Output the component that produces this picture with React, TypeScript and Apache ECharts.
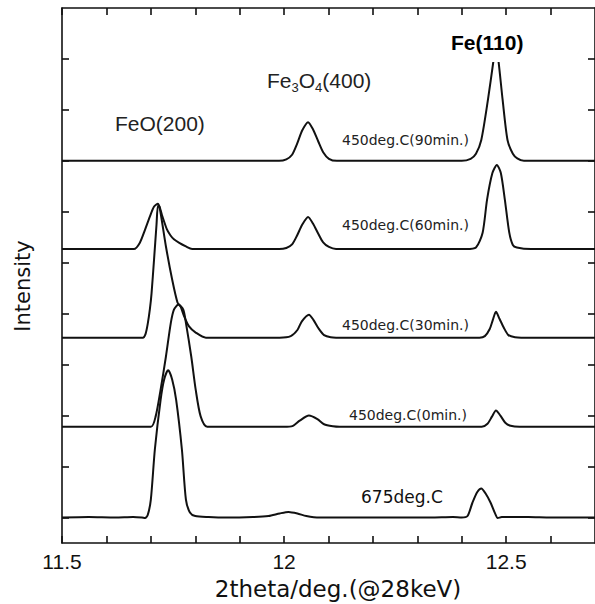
import React, { useEffect, useRef } from "react";
import * as echarts from "echarts";

// x: 2theta (deg), y: intensity + vertical offset (arbitrary units)
const trace90: number[][] = [
  [11.5, 7.0], [11.7, 7.0], [11.9, 7.0], [11.989, 7.0], [12.005, 7.03], [12.018, 7.12],
  [12.029, 7.33], [12.041, 7.6], [12.054, 7.76], [12.065, 7.62], [12.077, 7.38],
  [12.088, 7.17], [12.101, 7.04], [12.119, 7.0], [12.3, 7.0], [12.4, 7.0], [12.42, 7.04],
  [12.432, 7.14], [12.444, 7.41], [12.459, 8.2], [12.471, 8.94], [12.477, 9.3],
  [12.483, 8.94], [12.492, 8.2], [12.503, 7.41], [12.515, 7.14], [12.525, 7.05],
  [12.54, 7.0], [12.7, 7.0],
];

const trace60: number[][] = [
  [11.5, 5.27], [11.662, 5.27], [11.675, 5.39], [11.687, 5.65], [11.698, 5.91],
  [11.707, 6.1], [11.716, 6.16], [11.726, 5.91], [11.736, 5.66], [11.744, 5.54],
  [11.752, 5.46], [11.764, 5.39], [11.779, 5.32], [11.793, 5.27], [11.989, 5.27],
  [12.005, 5.29], [12.018, 5.36], [12.029, 5.53], [12.041, 5.75], [12.054, 5.9],
  [12.065, 5.77], [12.077, 5.57], [12.088, 5.4], [12.101, 5.31], [12.117, 5.27],
  [12.41, 5.27], [12.432, 5.3], [12.447, 5.59], [12.457, 6.24], [12.469, 6.76],
  [12.479, 6.92], [12.488, 6.76], [12.497, 6.24], [12.507, 5.59], [12.515, 5.35],
  [12.524, 5.3], [12.556, 5.27], [12.7, 5.27],
];

const trace30: number[][] = [
  [11.5, 3.53], [11.682, 3.53], [11.688, 3.6], [11.693, 3.8], [11.698, 4.1],
  [11.7016, 4.4], [11.7072, 5.06], [11.7128, 5.75], [11.716, 6.12], [11.7195, 6.1],
  [11.734, 5.32], [11.748, 4.67], [11.76, 4.22], [11.767, 4.14], [11.775, 3.95],
  [11.786, 3.75], [11.801, 3.63], [11.824, 3.53], [11.99, 3.53], [12.015, 3.56],
  [12.03, 3.68], [12.04, 3.85], [12.056, 3.98], [12.066, 3.88], [12.077, 3.72],
  [12.09, 3.58], [12.105, 3.54], [12.135, 3.53], [12.44, 3.53], [12.452, 3.56],
  [12.463, 3.7], [12.47, 3.88], [12.477, 4.04], [12.485, 3.9], [12.495, 3.72],
  [12.505, 3.58], [12.52, 3.54], [12.555, 3.53], [12.7, 3.53],
];

const trace0: number[][] = [
  [11.5, 1.78], [11.7, 1.78], [11.711, 1.99], [11.722, 2.51], [11.734, 3.16],
  [11.745, 3.82], [11.752, 4.08], [11.762, 4.18], [11.773, 4.08], [11.779, 3.82],
  [11.791, 3.16], [11.801, 2.51], [11.812, 1.99], [11.827, 1.78], [12.0, 1.78],
  [12.02, 1.8], [12.035, 1.9], [12.056, 2.0], [12.075, 1.93], [12.09, 1.83],
  [12.11, 1.79], [12.125, 1.78], [12.445, 1.78], [12.458, 1.84], [12.468, 1.98],
  [12.477, 2.1], [12.487, 2.0], [12.498, 1.86], [12.51, 1.8], [12.53, 1.78], [12.7, 1.78],
];

const trace675: number[][] = [
  [11.5, 0.0], [11.56, 0.01], [11.62, 0.0], [11.66, 0.01], [11.68, 0.0],
  [11.687, -0.01], [11.693, 0.05], [11.7, 0.35], [11.709, 1.33],
  [11.722, 2.31], [11.73, 2.71], [11.739, 2.89], [11.748, 2.71], [11.757, 2.31],
  [11.77, 1.33], [11.779, 0.35], [11.788, 0.1], [11.8, 0.03], [11.83, 0.01], [11.87, 0.0],
  [11.93, 0.01], [11.965, 0.03], [11.99, 0.08], [12.01, 0.11], [12.03, 0.08], [12.05, 0.03],
  [12.08, 0.0], [12.15, 0.0], [12.25, 0.0], [12.33, 0.0], [12.38, 0.01], [12.4, 0.0],
  [12.413, 0.03], [12.424, 0.29], [12.435, 0.5], [12.444, 0.57], [12.453, 0.48],
  [12.465, 0.29], [12.475, 0.08], [12.481, -0.01], [12.49, 0.01], [12.55, 0.01],
  [12.6, 0.0], [12.7, 0.0],
];

const xLabelValues = [11.5, 12, 12.5];
const xTickValues = [11.5, 11.6, 11.7, 11.8, 11.9, 12, 12.1, 12.2, 12.3, 12.4, 12.5, 12.6];
const yTickValues = [0, 1, 2, 3, 4, 5, 6, 7, 8, 9];

const sampleLabels = [
  { text: "450deg.C(90min.)", x: 342, y: 140 },
  { text: "450deg.C(60min.)", x: 342, y: 225 },
  { text: "450deg.C(30min.)", x: 342, y: 325 },
  { text: "450deg.C(0min.)", x: 349, y: 415 },
];

const INK = "#111";

export default function App() {
  const ref = useRef<HTMLDivElement>(null);

  useEffect(() => {
    if (!ref.current) return;
    const chart = echarts.init(ref.current, undefined, { renderer: "svg" });

    const lineStyle = { color: INK, width: 1.6 };
    const xAxisBase = (pos: "top" | "bottom", labels: boolean) => ({
      type: "value" as const,
      position: pos,
      min: 11.5,
      max: 12.7,
      axisLine: { show: true, onZero: false, lineStyle },
      axisTick: { show: true, inside: true, length: 7, customValues: xTickValues, lineStyle },
      axisLabel: {
        show: labels,
        customValues: xLabelValues,
        fontSize: 21,
        fontFamily: "Liberation Sans",
        color: INK,
        margin: 8,
        formatter: (v: number) => String(v),
      },
      splitLine: { show: false },
    });
    const yAxisBase = (pos: "left" | "right") => ({
      type: "value" as const,
      position: pos,
      min: -0.5,
      max: 10,
      axisLine: { show: true, onZero: false, lineStyle },
      axisTick: { show: true, inside: true, length: 7, customValues: yTickValues, lineStyle },
      axisLabel: { show: false },
      splitLine: { show: false },
    });

    const mkSeries = (name: string, data: number[][]) => ({
      name,
      type: "line" as const,
      data,
      showSymbol: false,
      smooth: 0.25,
      lineStyle: { color: INK, width: 2 },
      xAxisIndex: 0,
      yAxisIndex: 0,
      z: 3,
    });

    chart.setOption({
      animation: false,
      backgroundColor: "#fff",
      grid: { left: 62, top: 8, width: 534, height: 535, containLabel: false },
      xAxis: [xAxisBase("bottom", true), xAxisBase("top", false)],
      yAxis: [yAxisBase("left"), yAxisBase("right")],
      series: [
        mkSeries("450deg.C(90min.)", trace90),
        mkSeries("450deg.C(60min.)", trace60),
        mkSeries("450deg.C(30min.)", trace30),
        mkSeries("450deg.C(0min.)", trace0),
        mkSeries("675deg.C", trace675),
      ],
      graphic: [
        {
          type: "rect",
          z: 100,
          shape: { x: 445, y: 19, width: 118, height: 43 },
          style: { fill: "#fff" },
        },
        {
          type: "text",
          z: 101,
          x: 451,
          y: 42,
          style: {
            text: "Fe(110)",
            fontSize: 21,
            fontWeight: "bold",
            fontFamily: "Liberation Sans",
            fill: "#000",
            align: "left",
            verticalAlign: "middle",
          },
        },
        {
          type: "text",
          z: 101,
          x: 115,
          y: 123,
          style: {
            text: "FeO(200)",
            fontSize: 21,
            fontFamily: "Liberation Sans",
            fill: "#222",
            align: "left",
            verticalAlign: "middle",
          },
        },
        {
          type: "text",
          z: 101,
          x: 267,
          y: 80,
          style: {
            text: "{m|Fe}{s|3}{m|O}{s|4}{m|(400)}",
            align: "left",
            verticalAlign: "middle",
            fill: "#222",
            rich: {
              m: { fontSize: 21, lineHeight: 28, fontFamily: "Liberation Sans", fill: "#222", verticalAlign: "middle" },
              s: { fontSize: 13, lineHeight: 13, fontFamily: "Liberation Sans", fill: "#222", verticalAlign: "bottom" },
            },
          },
        },
        ...sampleLabels.map((l) => ({
          type: "text",
          z: 101,
          x: l.x,
          y: l.y,
          style: {
            text: l.text,
            fontSize: 14,
            fontFamily: "DejaVu Sans",
            fill: "#222",
            align: "left",
            verticalAlign: "middle",
          },
        })),
        {
          type: "text",
          z: 101,
          x: 361,
          y: 497,
          style: {
            text: "675deg.C",
            fontSize: 17,
            fontFamily: "DejaVu Sans",
            fill: "#111",
            align: "left",
            verticalAlign: "middle",
          },
        },
        {
          type: "text",
          z: 101,
          x: 338,
          y: 589,
          style: {
            text: "2theta/deg.(@28keV)",
            fontSize: 23,
            fontFamily: "DejaVu Sans",
            fill: "#111",
            align: "center",
            verticalAlign: "middle",
          },
        },
        {
          type: "text",
          z: 101,
          x: 23,
          y: 286,
          rotation: Math.PI / 2,
          style: {
            text: "Intensity",
            fontSize: 21,
            fontFamily: "DejaVu Sans",
            fill: "#111",
            align: "center",
            verticalAlign: "middle",
          },
        },
      ],
    });

    return () => chart.dispose();
  }, []);

  return (
    <div
      ref={ref}
      style={{ position: "absolute", left: 0, top: 0, width: 595, height: 604, background: "#fff" }}
    />
  );
}
